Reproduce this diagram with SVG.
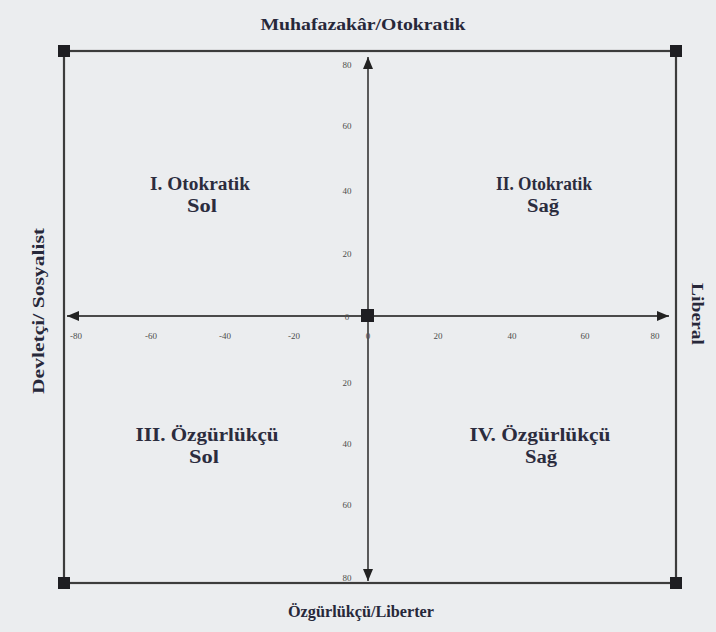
<svg xmlns="http://www.w3.org/2000/svg" width="716" height="632" viewBox="0 0 716 632">
<style>
.frame{stroke:#3c3c3c;stroke-width:2.2;fill:none}
.axis{stroke:#4a4a4a;stroke-width:1.8;fill:none}
.corner{fill:#1e1e22}
.tick{font-family:"Liberation Serif",serif;font-size:9px;fill:#4d4d4d;text-anchor:middle}
.title{font-family:"Liberation Serif",serif;font-size:17px;font-weight:bold;fill:#27283a;text-anchor:middle}
.quad{font-family:"Liberation Serif",serif;font-size:18px;font-weight:bold;fill:#2b2c3e;text-anchor:middle}
</style>
<defs>
<marker id="arrH" viewBox="0 0 12 10" refX="12" refY="5" markerWidth="13" markerHeight="10" orient="auto" markerUnits="userSpaceOnUse">
<path d="M0,0 L12,5 L0,10 Z" fill="#222"/>
</marker>
</defs>
<rect width="716" height="632" fill="#ebedef"/>
<g id="frame">
<rect class="frame" x="64" y="51" width="612" height="532"/>
</g>
<g id="connectors">
<line class="axis" x1="368" y1="316" x2="368" y2="57" marker-end="url(#arrH)"/>
<line class="axis" x1="368" y1="316" x2="368" y2="581" marker-end="url(#arrH)"/>
<line class="axis" x1="367" y1="316" x2="67" y2="316" marker-end="url(#arrH)"/>
<line class="axis" x1="367" y1="316" x2="669" y2="316" marker-end="url(#arrH)"/>
</g>
<g id="corners">
<rect class="corner" x="58" y="45" width="12" height="12"/>
<rect class="corner" x="670" y="45" width="12" height="12"/>
<rect class="corner" x="58" y="577" width="12" height="12"/>
<rect class="corner" x="670" y="577" width="12" height="12"/>
<rect class="corner" x="361" y="309" width="13" height="13"/>
</g>
<g id="y-ticks">
<text class="tick" x="347" y="68">80</text>
<text class="tick" x="347" y="129">60</text>
<text class="tick" x="347" y="194">40</text>
<text class="tick" x="347" y="257">20</text>
<text class="tick" x="347" y="320">0</text>
<text class="tick" x="347" y="386">20</text>
<text class="tick" x="347" y="447">40</text>
<text class="tick" x="347" y="508">60</text>
<text class="tick" x="347" y="581">80</text>
</g>
<g id="x-ticks">
<text class="tick" x="76" y="339">-80</text>
<text class="tick" x="151" y="339">-60</text>
<text class="tick" x="225" y="339">-40</text>
<text class="tick" x="294" y="339">-20</text>
<text class="tick" x="368" y="339">0</text>
<text class="tick" x="438" y="339">20</text>
<text class="tick" x="512" y="339">40</text>
<text class="tick" x="585" y="339">60</text>
<text class="tick" x="655" y="339">80</text>
</g>
<g id="axis-titles">
<text class="title" x="363" y="30" textLength="205" lengthAdjust="spacingAndGlyphs">Muhafazakâr/Otokratik</text>
<text class="title" x="361" y="617" textLength="146" lengthAdjust="spacingAndGlyphs">Özgürlükçü/Liberter</text>
<text class="title" transform="translate(44,311) rotate(-90)" textLength="166" lengthAdjust="spacingAndGlyphs">Devletçi/ Sosyalist</text>
<text class="title" transform="translate(692,314) rotate(90)" textLength="62" lengthAdjust="spacingAndGlyphs">Liberal</text>
</g>
<g id="q1">
<text class="quad" x="200" y="190" textLength="100" lengthAdjust="spacingAndGlyphs">I. Otokratik</text>
<text class="quad" x="202" y="212" textLength="30" lengthAdjust="spacingAndGlyphs">Sol</text>
</g>
<g id="q2">
<text class="quad" x="544" y="190" textLength="96" lengthAdjust="spacingAndGlyphs">II. Otokratik</text>
<text class="quad" x="543" y="212" textLength="32" lengthAdjust="spacingAndGlyphs">Sağ</text>
</g>
<g id="q3">
<text class="quad" x="207" y="441" textLength="143" lengthAdjust="spacingAndGlyphs">III. Özgürlükçü</text>
<text class="quad" x="204" y="463" textLength="30" lengthAdjust="spacingAndGlyphs">Sol</text>
</g>
<g id="q4">
<text class="quad" x="540" y="441" textLength="141" lengthAdjust="spacingAndGlyphs">IV. Özgürlükçü</text>
<text class="quad" x="541" y="463" textLength="32" lengthAdjust="spacingAndGlyphs">Sağ</text>
</g>
</svg>
